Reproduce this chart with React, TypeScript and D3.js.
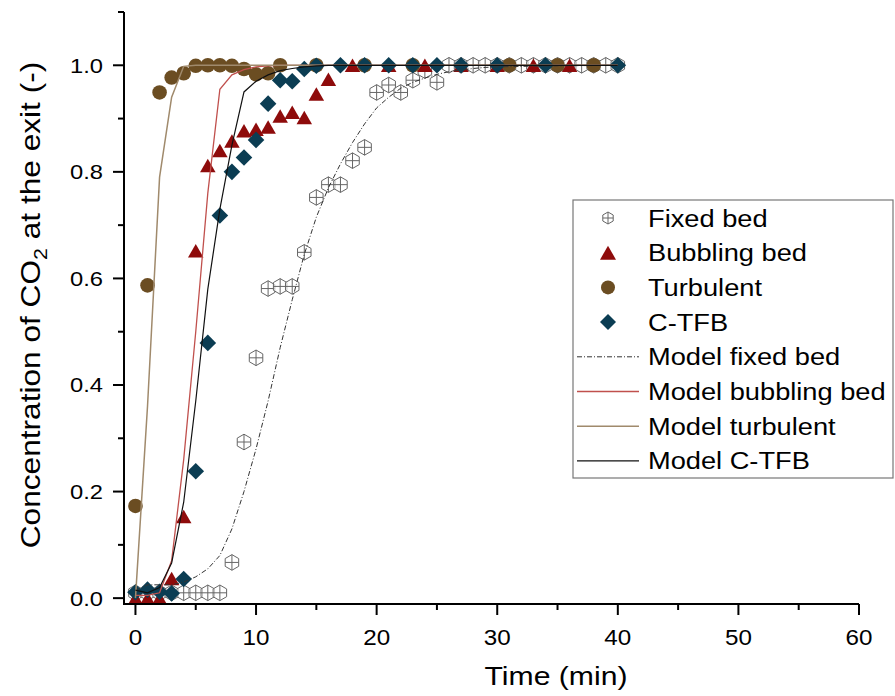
import React from 'react';
import * as d3 from 'd3';

const W = 895;
const H = 696;

// Experimental data
const fixedTime = [0,1,2,3,4,5,6,7,8,9,10,11,12,13,14,15,16,17,18,19,20,21,22,23,24,25,26,27,28,29,30,31,32,33,34,35,36,37,38,39,40];
const fixedConc = [0.01,0.01,0.01,0.01,0.01,0.01,0.01,0.01,0.067,0.293,0.451,0.581,0.585,0.585,0.649,0.752,0.776,0.776,0.821,0.846,0.949,0.963,0.949,0.972,0.99,0.968,1,1,1,1,1,1,1,1,1,1,1,1,1,1,1];

const bubblingTime = [0,1,2,3,4,5,6,7,8,9,10,11,12,13,14,15,16,18,21,24,27,30,33,36];
const bubblingConc = [0,0,0,0.037,0.153,0.652,0.812,0.84,0.858,0.877,0.88,0.884,0.905,0.912,0.902,0.946,0.974,1,1,1,1,1,1,1];

const turbulentTime = [0,1,2,3,4,5,6,7,8,9,10,11,12,15,19,23,31,35,38];
const turbulentConc = [0.173,0.587,0.949,0.977,0.985,0.999,1,1,0.999,0.993,0.983,0.985,1,1,1,1,1,1,1];

const ctfbTime = [0,1,2,3,4,5,6,7,8,9,10,11,12,13,14,15,17,19,21,23,25,27,30,34,40];
const ctfbConc = [0.011,0.016,0.012,0.009,0.036,0.238,0.479,0.718,0.8,0.827,0.86,0.928,0.972,0.97,0.993,0.999,1,1,1,1,1,1,1,1,1];

// Model curves
const modelFixedTime = [0,1,2,3,4,5,6,7,8,9,10,11,12,13,14,15,16,17,18,19,20,21,22,23,24,25,26,27,28,29,30,32,35,40];
const modelFixedConc = [0.015,0.025,0.025,0.025,0.03,0.04,0.055,0.08,0.13,0.2,0.28,0.37,0.47,0.56,0.645,0.715,0.77,0.815,0.855,0.89,0.92,0.94,0.957,0.968,0.976,0.983,0.988,0.991,0.994,0.996,0.997,0.998,0.999,1.0];

const modelBubblingTime = [0,1,2,3,4,5,6,7,8,9,10,11,12,40];
const modelBubblingConc = [0.005,0.005,0.01,0.07,0.26,0.5,0.76,0.955,0.982,0.992,0.997,0.999,1.0,1.0];

const modelTurbulentTime = [0,1,2,3,4,5,40];
const modelTurbulentConc = [0.0,0.36,0.79,0.94,0.998,1.0,1.0];

const modelCtfbTime = [0,1,2,3,4,5,6,7,8,9,10,11,12,13,14,15,16,40];
const modelCtfbConc = [0.015,0.01,0.02,0.066,0.18,0.37,0.58,0.73,0.85,0.95,0.97,0.982,0.99,0.994,0.997,0.999,1.0,1.0];

const xTicks = [0,10,20,30,40,50,60];
const xMinor = [5,15,25,35,45,55];
const yTicks = [0,0.2,0.4,0.6,0.8,1.0];
const yMinor = [0.1,0.3,0.5,0.7,0.9,1.1];

const legendLabels = ['Fixed bed','Bubbling bed','Turbulent','C-TFB','Model fixed bed','Model bubbling bed','Model turbulent','Model C-TFB'];

const C_RED = '#8e0b0b';
const C_BROWN = '#6b4d22';
const C_TEAL = '#0b3d53';
const C_HEX = '#666666';
const L_RED = '#c0504d';
const L_TAN = '#a08a6c';
const L_FIXED = '#333333';
const L_CTFB = '#111111';

const FONT = "'Liberation Sans', Arial, sans-serif";

const hexPath = (r: number) => {
  const pts: string[] = [];
  for (let i = 0; i < 6; i++) {
    const a = (Math.PI / 3) * i - Math.PI / 2;
    pts.push(`${(r * Math.cos(a)).toFixed(2)},${(r * Math.sin(a)).toFixed(2)}`);
  }
  const h = r * 0.866;
  return `M${pts.join('L')}Z M0,${-r}V${r} M${-h},0H${h}`;
};
const triPath = (w: number, h: number) => `M0,${-h / 2}L${w / 2},${h / 2}L${-w / 2},${h / 2}Z`;
const diaPath = (d: number) => `M0,${-d}L${d},0L0,${d}L${-d},0Z`;

export default function App() {
  const x = d3.scaleLinear().domain([-0.95, 60]).range([124, 859]);
  const y = d3.scaleLinear().domain([-0.011, 1.1]).range([604, 12]);

  const line = (ts: number[], vs: number[]) =>
    d3.line<number>().x((_, i) => x(ts[i])).y((v) => y(v))(vs) || '';

  const x0 = x.range()[0];
  const y0 = y.range()[0];

  const legendX = 573;
  const legendY = 200;
  const rowY = (i: number) => 218 + i * 34.7;
  const symX = 608;

  return (
    <svg width={W} height={H} style={{ position: 'absolute', left: 0, top: 0, background: '#fff' }} fontFamily={FONT}>
      <rect x={0} y={0} width={W} height={H} fill="#fff" />
      {/* markers */}
      <g>
        {fixedTime.map((t, i) => (
          <path key={'f' + i} d={hexPath(7.8)} transform={`translate(${x(t)},${y(fixedConc[i])})`} fill="#fff" fillOpacity={0.6} stroke={C_HEX} strokeWidth={1} />
        ))}
        {bubblingTime.map((t, i) => (
          <path key={'b' + i} d={triPath(15.5, 13.5)} transform={`translate(${x(t)},${y(bubblingConc[i])})`} fill={C_RED} />
        ))}
        {turbulentTime.map((t, i) => (
          <circle key={'t' + i} cx={x(t)} cy={y(turbulentConc[i])} r={7.3} fill={C_BROWN} />
        ))}
        {ctfbTime.map((t, i) => (
          <path key={'c' + i} d={diaPath(8.3)} transform={`translate(${x(t)},${y(ctfbConc[i])})`} fill={C_TEAL} />
        ))}
      </g>
      {/* model lines */}
      <g fill="none">
        <path d={line(modelFixedTime, modelFixedConc)} stroke={L_FIXED} strokeWidth={1} strokeDasharray="5,2,1,2" />
        <path d={line(modelBubblingTime, modelBubblingConc)} stroke={L_RED} strokeWidth={1.3} />
        <path d={line(modelTurbulentTime, modelTurbulentConc)} stroke={L_TAN} strokeWidth={1.5} />
        <path d={line(modelCtfbTime, modelCtfbConc)} stroke={L_CTFB} strokeWidth={1.2} />
      </g>
      {/* axes */}
      <g stroke="#000" strokeWidth={2} fill="none">
        <line x1={x0} x2={x0} y1={y.range()[1]} y2={y0 + 1} />
        <line x1={x0 - 1} x2={x.range()[1]} y1={y0} y2={y0} />
        {xTicks.map((t) => (
          <line key={'xt' + t} x1={x(t)} x2={x(t)} y1={y0} y2={y0 + 11} />
        ))}
        {xMinor.map((t) => (
          <line key={'xm' + t} x1={x(t)} x2={x(t)} y1={y0} y2={y0 + 6} />
        ))}
        {yTicks.map((t) => (
          <line key={'yt' + t} x1={x0} x2={x0 - 11} y1={y(t)} y2={y(t)} />
        ))}
        {yMinor.map((t) => (
          <line key={'ym' + t} x1={x0} x2={x0 - 6} y1={y(t)} y2={y(t)} />
        ))}
      </g>
      <g fill="#000">
        {xTicks.map((t) => (
          <text key={'xl' + t} fontSize={22} transform={`translate(${x(t)},${y0 + 41}) scale(1.1,1)`} textAnchor="middle">
            {t}
          </text>
        ))}
        {yTicks.map((t) => (
          <text key={'yl' + t} fontSize={21} transform={`translate(103,${y(t) + 7.5}) scale(1.13,1)`} textAnchor="end">
            {d3.format('.1f')(t)}
          </text>
        ))}
      </g>
      <text transform={`translate(556,685) scale(1.16,1)`} textAnchor="middle" fontSize={26}>
        Time (min)
      </text>
      <text transform={`translate(40,305) rotate(-90) scale(1.13,1)`} textAnchor="middle" fontSize={28}>
        Concentration of CO<tspan fontSize={19} dy={7}>2</tspan>
        <tspan dy={-7}> at the exit (-)</tspan>
      </text>
      {/* legend */}
      <rect x={legendX} y={legendY} width={320} height={278} fill="#fff" stroke="#777" strokeWidth={1.2} />
      <path d={hexPath(6)} transform={`translate(${symX},${rowY(0)})`} fill="#fff" stroke={C_HEX} strokeWidth={1} />
      <path d={triPath(16, 14)} transform={`translate(${symX},${rowY(1)})`} fill={C_RED} />
      <circle cx={symX} cy={rowY(2)} r={7} fill={C_BROWN} />
      <path d={diaPath(8)} transform={`translate(${symX},${rowY(3)})`} fill={C_TEAL} />
      <line x1={577} x2={639} y1={rowY(4)} y2={rowY(4)} stroke={L_FIXED} strokeWidth={1} strokeDasharray="5,2,1,2" />
      <line x1={577} x2={639} y1={rowY(5)} y2={rowY(5)} stroke={L_RED} strokeWidth={1.3} />
      <line x1={577} x2={639} y1={rowY(6)} y2={rowY(6)} stroke={L_TAN} strokeWidth={1.5} />
      <line x1={577} x2={639} y1={rowY(7)} y2={rowY(7)} stroke={L_CTFB} strokeWidth={1.2} />
      <g fontSize={24} fill="#000">
        {legendLabels.map((l, i) => (
          <text key={l} transform={`translate(648,${rowY(i) + 8.5}) scale(1.135,1)`}>
            {l}
          </text>
        ))}
      </g>
    </svg>
  );
}
